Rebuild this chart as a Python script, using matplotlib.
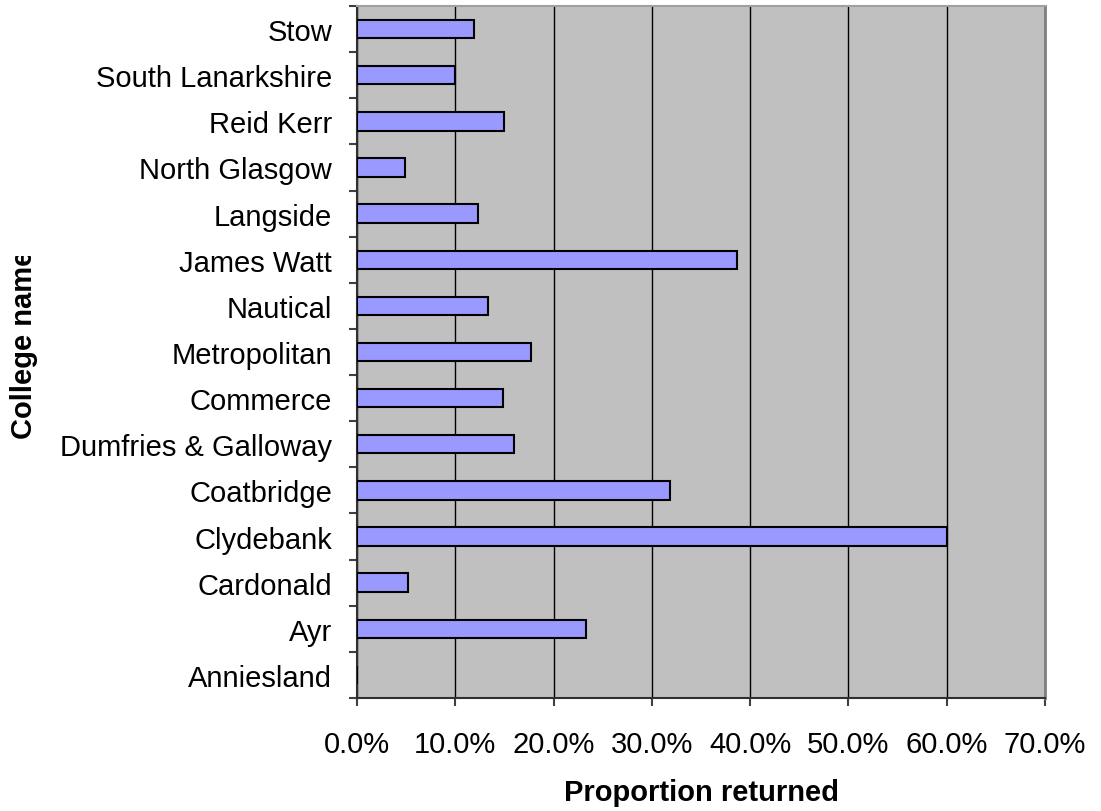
import numpy as np
from matplotlib import pyplot as plt
from matplotlib import ticker
from matplotlib.transforms import Bbox

plt.rcParams['font.family'] = ['Liberation Sans', 'DejaVu Sans']

# bottom to top, as drawn
colleges = ["Anniesland", "Ayr", "Cardonald", "Clydebank", "Coatbridge",
            "Dumfries & Galloway", "Commerce", "Metropolitan", "Nautical",
            "James Watt", "Langside", "North Glasgow", "Reid Kerr",
            "South Lanarkshire", "Stow"]
returned = [0.0, 0.233, 0.052, 0.600, 0.318,
            0.160, 0.149, 0.177, 0.133,
            0.387, 0.123, 0.0485, 0.150,
            0.100, 0.119]
x_ticks = [0.0, 0.1, 0.2, 0.3, 0.4, 0.5, 0.6, 0.7]

W, H = 1101, 812
fig = plt.figure(figsize=(W / 100, H / 100), dpi=100)
ax = fig.add_axes([357 / W, (H - 699) / H, 688 / W, 692 / H])
ax.set_facecolor("#C0C0C0")

y = np.arange(len(colleges))
ax.barh(y, returned, height=0.4, color="#9999FF", edgecolor="black",
        linewidth=1.5, zorder=3)

ax.set_xlim(0, 0.7)
ax.set_ylim(-0.5, len(colleges) - 0.5)
ax.set_xticks(x_ticks)
ax.xaxis.set_major_formatter(ticker.PercentFormatter(xmax=1, decimals=1))
ax.grid(axis="x", color="black", linewidth=1, zorder=1)
ax.set_axisbelow(True)

ax.set_yticks(y)
ax.set_yticklabels(colleges)
ax.set_yticks(np.arange(len(colleges) + 1) - 0.5, minor=True)
ax.tick_params(axis="y", which="major", length=0, pad=18, labelsize=21)
ax.tick_params(axis="y", which="minor", length=6, width=1.5, color="#404040")
ax.tick_params(axis="x", which="major", length=6, width=1.5, color="#404040",
               pad=17, labelsize=21)

for side in ("left", "bottom"):
    ax.spines[side].set_color("#303030")
    ax.spines[side].set_linewidth(1.5)
ax.spines["top"].set_color("#A0A0A0")
ax.spines["top"].set_linewidth(1.5)
ax.spines["right"].set_color("#808080")
ax.spines["right"].set_linewidth(2)

fig.text(701 / W, 1 - 793 / H, "Proportion returned", ha="center",
         va="center", fontsize=21, fontweight="bold")

# y label is cut off at the top in the original
t = fig.text(24 / W, 1 - 344 / H, "College name", ha="center", va="center",
             rotation=90, fontsize=21, fontweight="bold")
t.set_clip_box(Bbox([[0, 0], [60, H - 257]]))
t.set_clip_on(True)

fig.savefig("out.png", dpi=100)
